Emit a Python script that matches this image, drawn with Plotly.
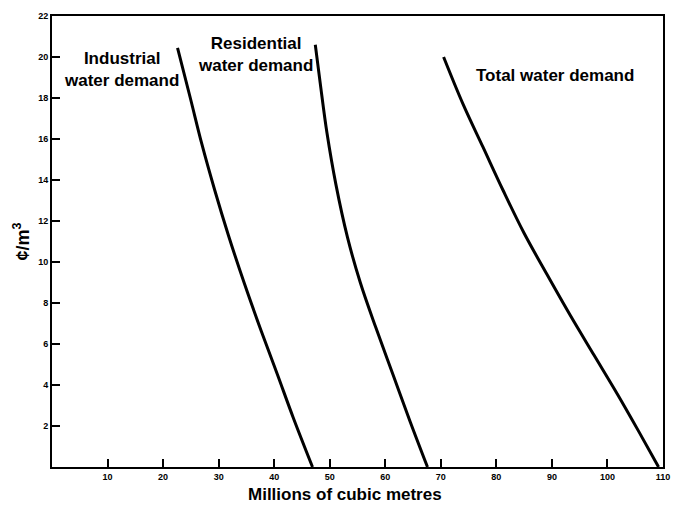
import plotly.graph_objects as go

# Data (x: millions of cubic metres, y: cents per m3)
industrial_x = [22.6, 24.9, 26.96, 29.3, 31.8, 34.7, 37.7, 40.6, 43.4, 46.9]
industrial_y = [20.44, 18.0, 15.77, 13.5, 11.27, 8.9, 6.61, 4.5, 2.43, 0.0]

residential_x = [47.4, 48.3, 49.5, 51.1, 53.2, 55.5, 58.3, 61.4, 64.5, 67.6]
residential_y = [20.6, 18.7, 16.3, 13.8, 11.2, 9.0, 6.8, 4.5, 2.2, 0.0]

total_x = [70.5, 74.0, 77.6, 81.2, 85.0, 89.1, 93.3, 97.6, 101.8, 105.6, 109.2]
total_y = [20.0, 17.7, 15.6, 13.5, 11.4, 9.4, 7.4, 5.45, 3.55, 1.75, 0.0]

x_ticks = [10, 20, 30, 40, 50, 60, 70, 80, 90, 100, 110]
y_ticks = [2, 4, 6, 8, 10, 12, 14, 16, 18, 20, 22]

labels = ["Industrial<br>water demand", "Residential<br>water demand", "Total water demand"]
label_x = [12.5, 36.6, 90.6]
label_y = [19.4, 20.1, 19.1]

FONT = "Liberation Sans, Arial, sans-serif"

fig = go.Figure()
for xs, ys in [(industrial_x, industrial_y), (residential_x, residential_y), (total_x, total_y)]:
    fig.add_trace(go.Scatter(
        x=xs, y=ys, mode="lines",
        line=dict(color="black", width=3, shape="spline", smoothing=1.0),
        showlegend=False, hoverinfo="skip",
    ))

for t, xv, yv in zip(labels, label_x, label_y):
    fig.add_annotation(
        x=xv, y=yv, xref="x", yref="y", text=t, showarrow=False,
        font=dict(family=FONT, size=17, color="black", weight="bold"),
        align="center",
    )

# x-axis title placed slightly left of centre, as in the reference
fig.add_annotation(
    x=0.48, y=-0.036, xref="paper", yref="paper", text="Millions of cubic metres",
    showarrow=False, xanchor="center", yanchor="top",
    font=dict(family=FONT, size=17, color="black", weight="bold"),
)

fig.update_layout(
    width=681, height=506,
    margin=dict(l=52, r=16, t=11, b=39),
    paper_bgcolor="white", plot_bgcolor="white",
    font=dict(family=FONT, color="black"),
    xaxis=dict(
        range=[0, 110], tickvals=x_ticks, ticktext=[str(v) for v in x_ticks],
        ticks="inside", ticklen=8, tickwidth=2, tickcolor="black",
        showline=True, linewidth=2, linecolor="black", mirror=True,
        showgrid=False, zeroline=False,
        tickfont=dict(family=FONT, size=9, color="black", weight="bold"),
    ),
    yaxis=dict(
        range=[0, 22], tickvals=y_ticks, ticktext=[str(v) for v in y_ticks],
        ticks="inside", ticklen=8, tickwidth=2, tickcolor="black",
        showline=True, linewidth=2, linecolor="black", mirror=True,
        showgrid=False, zeroline=False,
        tickfont=dict(family=FONT, size=9, color="black", weight="bold"),
        title=dict(text="¢/m<sup>3</sup>", standoff=4,
                   font=dict(family=FONT, size=18, color="black", weight="bold")),
    ),
)

fig.write_html(
    "out.html",
    config={"displayModeBar": False},
    post_script="document.body.style.margin='0';document.body.style.overflow='hidden';",
)
